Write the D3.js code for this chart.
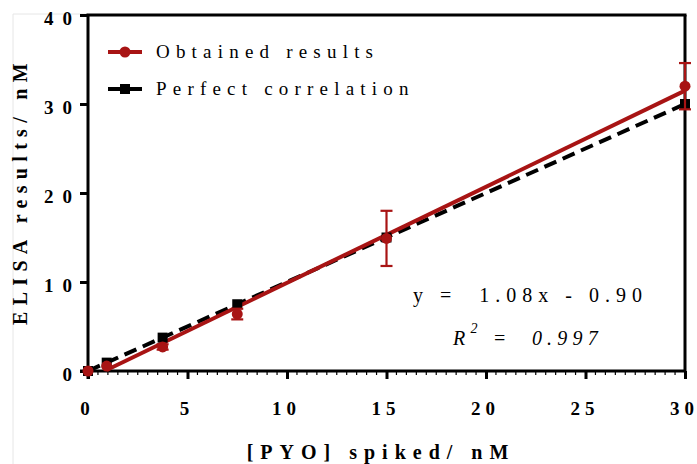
<!DOCTYPE html>
<html><head><meta charset="utf-8">
<script src="https://cdn.jsdelivr.net/npm/d3@7"></script>
<style>body{margin:0;background:#fff}svg{display:block}</style>
</head><body>
<script>
const spiked = [0, 0.94, 3.75, 7.5, 15, 30];
const obtained = [0, 0.55, 2.7, 6.4, 14.9, 32.0];
const obtainedErr = [0, 0, 0.3, 0.6, 3.1, 2.6];
const perfect = [0, 0.94, 3.75, 7.5, 15, 30];
const fitSlope = 1.08, fitIntercept = -0.90;
const xTicks = [0, 5, 10, 15, 20, 25, 30];
const yTicks = [0, 10, 20, 30, 40];
const legendLabels = ["Obtained results", "Perfect correlation"];
const eqText = "y =  1.08x - 0.90";
const r2Value = "0.997";

const W = 697, H = 464;
const red = "#a81414";
const svg = d3.select("body").append("svg").attr("width", W).attr("height", H);
const x = d3.scaleLinear().domain([0, 30]).range([88, 685]);
const y = d3.scaleLinear().domain([0, 40]).range([371, 15]);
const serif = "'Liberation Serif','Times New Roman',serif";

// spaced characters without trailing gap
function spaced(sel, str, gap) {
  str.split("").forEach((ch, i) => sel.append("tspan").attr("dx", i ? gap : 0).text(ch));
}

// faint scan frame
svg.append("line").attr("x1",13).attr("x2",13).attr("y1",14).attr("y2",464).attr("stroke","#e6e6e6").attr("stroke-width",1);
svg.append("line").attr("x1",13).attr("x2",88).attr("y1",14).attr("y2",14).attr("stroke","#e6e6e6").attr("stroke-width",1);

// frame top & right
svg.append("line").attr("x1",x(0)-1.5).attr("x2",x(30)+1.5).attr("y1",y(40)).attr("y2",y(40)).attr("stroke","#000").attr("stroke-width",3);
svg.append("line").attr("x1",x(30)).attr("x2",x(30)).attr("y1",y(40)).attr("y2",y(0)).attr("stroke","#000").attr("stroke-width",3);

// x axis
const xAxis = d3.axisBottom(x).tickValues(xTicks).tickSize(8).tickFormat(() => "");
const gx = svg.append("g").attr("transform", `translate(0,${y(0)})`).call(xAxis);
gx.select(".domain").attr("stroke-width",3).attr("d", `M${x(0)-8},0H${x(30)}`);
gx.selectAll(".tick line").attr("stroke-width",3);
const minor = d3.range(0, 30.01, 0.5).filter(v => v % 5 !== 0);
gx.selectAll(".minor").data(minor).join("line").attr("class","minor")
  .attr("x1", d => x(d)).attr("x2", d => x(d)).attr("y1", -1).attr("y2", 4)
  .attr("stroke","#000").attr("stroke-width",1.2);
svg.append("g").selectAll("text").data(xTicks).join("text")
  .attr("x", d => x(d) - 3).attr("y", 415).attr("text-anchor","middle")
  .attr("font-family", serif).attr("font-weight","bold").attr("font-size",19)
  .each(function(d){ spaced(d3.select(this), String(d), 5); });

// y axis
const yAxis = d3.axisLeft(y).tickValues(yTicks).tickSize(8).tickFormat(() => "");
const gy = svg.append("g").attr("transform", `translate(${x(0)},0)`).call(yAxis);
gy.select(".domain").attr("stroke-width",3).attr("d", `M0,${y(40)}V${y(0)+8}`);
gy.selectAll(".tick line").attr("stroke-width",3);
svg.append("g").selectAll("text").data(yTicks).join("text")
  .attr("x", 72).attr("y", d => y(d) + 10).attr("text-anchor","end")
  .attr("font-family", serif).attr("font-weight","bold").attr("font-size",19)
  .each(function(d){ spaced(d3.select(this), String(d), 9); });

// axis titles
svg.append("text").attr("transform", `translate(27,${191}) rotate(-90)`).attr("text-anchor","middle")
  .attr("font-family", serif).attr("font-weight","bold").attr("font-size",20)
  .attr("letter-spacing","6.3px").text("ELISA results/ nM");
svg.append("text").attr("x", 381).attr("y", 459).attr("text-anchor","middle")
  .attr("font-family", serif).attr("font-weight","bold").attr("font-size",20)
  .attr("letter-spacing","7px").text("[PYO] spiked/ nM");

// perfect correlation dashed line
const line = d3.line().x(d => x(d[0])).y(d => y(d[1]));
svg.append("path").datum(spiked.map((s,i) => [s, perfect[i]])).attr("d", line)
  .attr("fill","none").attr("stroke","#000").attr("stroke-width",4).attr("stroke-dasharray","13,7");

// fit line
const xMin = d3.min(spiked.filter(v => v > 0)), xMax = d3.max(spiked);
svg.append("path").datum([[xMin, fitSlope*xMin+fitIntercept],[xMax, fitSlope*xMax+fitIntercept]]).attr("d", line)
  .attr("fill","none").attr("stroke",red).attr("stroke-width",4);

// black squares
svg.append("g").selectAll("rect").data(spiked.map((s,i)=>[s,perfect[i]])).join("rect")
  .attr("x", d => x(d[0]) - 5).attr("y", d => y(d[1]) - 5).attr("width",10).attr("height",10).attr("fill","#000");

// error bars
const eb = svg.append("g").attr("stroke", red).attr("stroke-width",2.2);
spiked.forEach((s,i) => {
  if (!obtainedErr[i]) return;
  const cx = x(s), t = y(obtained[i] + obtainedErr[i]), b = y(obtained[i] - obtainedErr[i]);
  eb.append("line").attr("x1",cx).attr("x2",cx).attr("y1",t).attr("y2",b);
  eb.append("line").attr("x1",cx-6).attr("x2",cx+6).attr("y1",t).attr("y2",t);
  eb.append("line").attr("x1",cx-6).attr("x2",cx+6).attr("y1",b).attr("y2",b);
});

// red circles
svg.append("g").selectAll("circle").data(spiked.map((s,i)=>[s,obtained[i]])).join("circle")
  .attr("cx", d => x(d[0])).attr("cy", d => y(d[1])).attr("r",5.5).attr("fill",red);

// legend
const lg = svg.append("g");
const legendStyles = [{c:red, m:"circle"}, {c:"#000", m:"square"}];
legendLabels.forEach((lab,i) => {
  const ly = 52 + i*37;
  lg.append("line").attr("x1",108).attr("x2",142).attr("y1",ly).attr("y2",ly).attr("stroke",legendStyles[i].c).attr("stroke-width",4);
  if (legendStyles[i].m === "circle") lg.append("circle").attr("cx",125).attr("cy",ly).attr("r",5.5).attr("fill",red);
  else lg.append("rect").attr("x",120).attr("y",ly-5).attr("width",10).attr("height",10).attr("fill","#000");
  lg.append("text").attr("x",156).attr("y",ly+6).attr("font-family",serif).attr("font-size",19)
    .attr("letter-spacing","6.2px").text(lab);
});

// equation
svg.append("text").attr("x",413).attr("y",302).attr("font-family",serif).attr("font-size",20)
  .attr("letter-spacing","6px").style("white-space","pre").text(eqText);
const r2 = svg.append("text").attr("x",453).attr("y",345).attr("font-family",serif).attr("font-size",20)
  .attr("font-style","italic").attr("letter-spacing","5.2px").style("white-space","pre");
r2.append("tspan").text("R");
r2.append("tspan").attr("dy",-12).attr("font-size",14).text("2");
r2.append("tspan").attr("dy",12).text(" =  " + r2Value);
</script>
</body></html>
